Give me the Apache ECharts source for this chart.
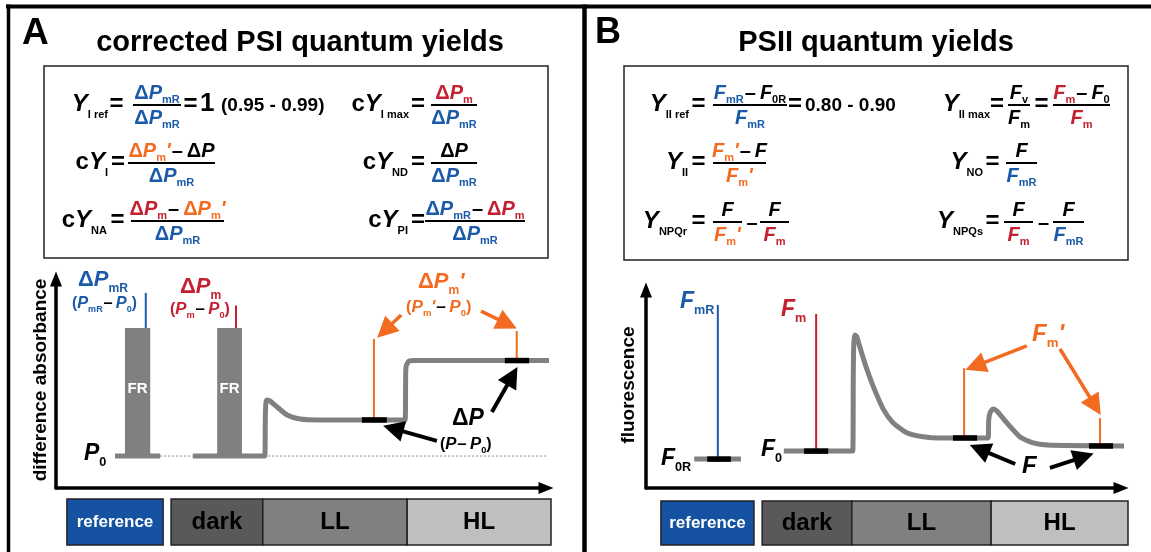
<!DOCTYPE html>
<html>
<head>
<meta charset="utf-8">
<title>PSI / PSII quantum yields</title>
<script src="https://cdn.jsdelivr.net/npm/echarts@6.0.0/dist/echarts.min.js"></script>
<style>
  html, body { margin: 0; padding: 0; background: #fff; }
  #chart { width: 1151px; height: 552px; }
</style>
</head>
<body>
<div id="chart"></div>
<script>
// ---- data, arbitrary units (time 0-100, signal 0-100) ----
// panel A: P700 difference absorbance
const traceRefA = [[11.9, 14.8], [21.0, 14.8]];
const traceA = [[27.6, 14.8], [42.1, 14.8], [42.2, 31.5], [42.3, 38.9], [42.5, 40.7], [43.1, 40.3], [44.6, 37.5],
  [46.6, 33.8], [49.2, 31.9], [53.2, 31.5], [70.4, 31.5], [70.5, 50.0], [70.6, 56.5], [71.2, 58.8], [72.4, 59.0], [99.8, 59.0]];
const baselineA = [[21.0, 14.8], [99.8, 14.8]];
const frBarsA = [[13.9, 19.0, 14.8, 74.1], [32.5, 37.5, 14.8, 74.1]]; // x0, x1, y0, y1
const markersA = [[18.1, 74.1, 90.3], [36.3, 74.1, 84.5], [64.1, 31.5, 69.0], [92.9, 59.0, 72.7]]; // x, y0, y1
const samplesA = [[61.7, 66.7, 31.5], [90.5, 95.4, 59.0]]; // x0, x1, y
const arrowsA = [[69.6, 80.1, 66.3, 72.9], [85.7, 81.9, 91.0, 76.0], [76.8, 21.8, 68.0, 27.5], [87.9, 35.2, 92.0, 51.8]];
const phasesA = [[2.2, 21.6], [23.2, 41.7], [41.7, 70.8], [70.8, 99.8]];

// panel B: chlorophyll fluorescence
const traceRefB = [[10.0, 14.1], [19.7, 14.1]];
const traceB = [[28.6, 18.0], [42.9, 18.0], [43.0, 52.7], [43.1, 69.8], [43.3, 74.6], [43.7, 73.9], [44.4, 68.5],
  [45.6, 59.5], [47.1, 49.8], [49.2, 38.6], [51.2, 32.0], [54.1, 27.0], [57.5, 25.0], [61.0, 24.4], [71.0, 24.4],
  [71.1, 33.2], [71.4, 36.8], [72.0, 38.5], [72.8, 37.6], [74.9, 31.7], [77.6, 24.9], [80.3, 22.0], [83.2, 21.0], [100.0, 20.5]];
const markersB = [[14.9, 14.1, 89.3], [35.3, 18.0, 84.9], [66.0, 24.4, 58.5], [94.2, 20.5, 34.1]];
const samplesB = [[12.7, 17.6, 14.1], [32.8, 37.8, 18.0], [63.7, 68.7, 24.4], [91.9, 96.9, 20.5]];
const arrowsB = [[79.0, 69.3, 68.3, 59.5], [85.9, 67.8, 93.2, 40.0], [76.6, 11.7, 69.2, 19.0], [83.8, 9.8, 90.8, 15.2]];
const phasesB = [[3.1, 22.4], [24.1, 42.7], [42.7, 71.6], [71.6, 100.0]];

const phaseNames = ['reference', 'dark', 'LL', 'HL'];

// ---- styles ----
const BLUE = '#1b5aa8', RED = '#c4202f', ORANGE = '#f26b21', GRAY = '#808080', BLACK = '#000';
const COL = { k: BLACK, b: BLUE, r: RED, o: ORANGE, w: '#fff' };
const markerColors = [BLUE, RED, ORANGE, ORANGE];
const arrowColors = [ORANGE, ORANGE, BLACK, BLACK];
const phaseFill = ['#1553a2', '#595959', '#808080', '#bfbfbf'];
const phaseText = ['#fff', '#000', '#000', '#000'];
const FAM = "'Liberation Sans', Arial, Helvetica, sans-serif";

// token kinds: [font size, italic, baseline shift]
const TOK = {
  Y: [24, 1, 0], c: [24, 0, 0], S: [11, 0, 6], eq: [24, 0, 0], one: [26, 0, 0],
  D: [20, 0, 0], P: [20, 1, 0], s: [11, 0, 4], q: [20, 1, 0], m: [20, 0, 0], n: [19, 0, 0]
};
const ctx2d = document.createElement('canvas').getContext('2d');
function fontOf (size, italic) { return (italic ? 'italic ' : '') + 'bold ' + size + 'px ' + FAM; }

// lay out a run of tokens on one baseline
function run (x, base, toks, align, k) {
  k = k || 1;
  const items = toks.map(t => {
    if (t[0] === 'g') return { gap: true, w: t[1] * k };
    const d = TOK[t[0]];
    const size = d[0] * k;
    const font = fontOf(size, d[1]);
    ctx2d.font = font;
    return { text: t[1], color: COL[t[2] || 'k'], font, size, dy: d[2] * k, w: ctx2d.measureText(t[1]).width };
  });
  const total = items.reduce((a, b) => a + b.w, 0);
  let cx = align === 'right' ? x - total : align === 'center' ? x - total / 2 : x;
  const els = [];
  items.forEach(it => {
    if (!it.gap) {
      els.push({
        type: 'text', x: cx, y: base + it.dy - 0.35 * it.size, silent: true,
        style: { text: it.text, font: it.font, fill: it.color, align: 'left', verticalAlign: 'middle' }
      });
    }
    cx += it.w;
  });
  return els;
}
const dP = (sub, c, pr) => [['D', 'Δ', c], ['P', 'P', c]].concat(sub ? [['s', sub, c]] : []).concat(pr ? [['q', "'", c]] : []);
const tP = (sub, c, pr) => [['P', 'P', c]].concat(sub ? [['s', sub, c]] : []).concat(pr ? [['q', "'", c]] : []);
const tF = (sub, c, pr) => [['P', 'F', c]].concat(sub ? [['s', sub, c]] : []).concat(pr ? [['q', "'", c]] : []);
const MI = [['g', 1], ['m', '–'], ['g', 4]];

function frac (x0, x1, bar, num, den) {
  const c = (x0 + x1) / 2;
  return [{ type: 'line', silent: true, shape: { x1: x0, y1: bar, x2: x1, y2: bar }, style: { stroke: BLACK, lineWidth: 2 } }]
    .concat(run(c, bar - 5, num, 'center'), run(c, bar + 20, den, 'center'));
}
const lhs = (xr, bar, toks) => run(xr, bar + 8, toks, 'right');
const eq = (xc, bar) => run(xc, bar + 8, [['eq', '=']], 'center');

const G = [];
const add = a => { a.forEach(e => G.push(e)); };

// frames
G.push({ type: 'line', silent: true, shape: { x1: 6, y1: 6.5, x2: 1151, y2: 6.5 }, style: { stroke: BLACK, lineWidth: 4 } });
G.push({ type: 'line', silent: true, shape: { x1: 8.5, y1: 4.5, x2: 8.5, y2: 552 }, style: { stroke: BLACK, lineWidth: 3.5 } });
G.push({ type: 'line', silent: true, shape: { x1: 584.5, y1: 4.5, x2: 584.5, y2: 552 }, style: { stroke: BLACK, lineWidth: 4.5 } });
G.push({ type: 'rect', silent: true, shape: { x: 44, y: 66, width: 504, height: 192 }, style: { fill: 'none', stroke: '#222', lineWidth: 1.5 } });
G.push({ type: 'rect', silent: true, shape: { x: 624, y: 66, width: 504, height: 194 }, style: { fill: 'none', stroke: '#222', lineWidth: 1.5 } });

// titles
G.push({ type: 'text', x: 22, y: 47 - 0.35 * 37, silent: true, style: { text: 'A', font: fontOf(37, 0), fill: BLACK, align: 'left', verticalAlign: 'middle' } });
G.push({ type: 'text', x: 300, y: 53 - 0.35 * 29, silent: true, style: { text: 'corrected PSI quantum yields', font: fontOf(29, 0), fill: BLACK, align: 'center', verticalAlign: 'middle' } });
G.push({ type: 'text', x: 595, y: 46 - 0.35 * 36, silent: true, style: { text: 'B', font: fontOf(36, 0), fill: BLACK, align: 'left', verticalAlign: 'middle' } });
G.push({ type: 'text', x: 876, y: 53 - 0.35 * 29, silent: true, style: { text: 'PSII quantum yields', font: fontOf(29, 0), fill: BLACK, align: 'center', verticalAlign: 'middle' } });

// panel A formulas
add(lhs(108, 105, [['Y', 'Y'], ['S', 'I ref']]));
add(eq(116.5, 105));
add(frac(133, 181, 105, dP('mR', 'b'), dP('mR', 'b')));
add(eq(190.5, 105));
add(run(200, 113, [['one', '1']], 'left'));
add(run(221, 112, [['n', '(0.95 - 0.99)']], 'left'));
add(lhs(409, 105, [['c', 'c'], ['Y', 'Y'], ['S', 'I max']]));
add(eq(418, 105));
add(frac(431, 477, 105, dP('m', 'r'), dP('mR', 'b')));

add(lhs(108, 163, [['c', 'c'], ['Y', 'Y'], ['S', 'I']]));
add(eq(118, 163));
add(frac(128, 215, 163, dP('m', 'o', 1).concat(MI, dP('', 'k')), dP('mR', 'b')));
add(lhs(408, 163, [['c', 'c'], ['Y', 'Y'], ['S', 'ND']]));
add(eq(418, 163));
add(frac(431, 477, 163, dP('', 'k'), dP('mR', 'b')));

add(lhs(107, 221, [['c', 'c'], ['Y', 'Y'], ['S', 'NA']]));
add(eq(117.5, 221));
add(frac(131, 224, 221, dP('m', 'r').concat(MI, dP('m', 'o', 1)), dP('mR', 'b')));
add(lhs(408, 221, [['c', 'c'], ['Y', 'Y'], ['S', 'PI']]));
add(eq(418, 221));
add(frac(425, 525, 221, dP('mR', 'b').concat(MI, dP('m', 'r')), dP('mR', 'b')));

// panel B formulas
add(lhs(689, 105, [['Y', 'Y'], ['S', 'II ref']]));
add(eq(698.5, 105));
add(frac(713, 787, 105, tF('mR', 'b').concat(MI, tF('0R', 'k')), tF('mR', 'b')));
add(eq(795, 105));
add(run(805, 112, [['n', '0.80 - 0.90']], 'left'));
add(lhs(990, 105, [['Y', 'Y'], ['S', 'II max']]));
add(eq(997, 105));
add(frac(1008, 1030, 105, tF('v', 'k'), tF('m', 'k')));
add(eq(1041.5, 105));
add(frac(1053, 1110, 105, tF('m', 'r').concat(MI, tF('0', 'k')), tF('m', 'r')));

add(lhs(688, 163, [['Y', 'Y'], ['S', 'II']]));
add(eq(698.5, 163));
add(frac(713, 766, 163, tF('m', 'o', 1).concat(MI, tF('', 'k')), tF('m', 'o', 1)));
add(lhs(983, 163, [['Y', 'Y'], ['S', 'NO']]));
add(eq(992.5, 163));
add(frac(1006, 1037, 163, tF('', 'k'), tF('mR', 'b')));

add(lhs(687, 222, [['Y', 'Y'], ['S', 'NPQr']]));
add(eq(698.5, 222));
add(frac(713, 742, 222, tF('', 'k'), tF('m', 'o', 1)));
add(run(752, 230, [['m', '–']], 'center'));
add(frac(760, 789, 222, tF('', 'k'), tF('m', 'r')));
add(lhs(983, 222, [['Y', 'Y'], ['S', 'NPQs']]));
add(eq(992.5, 222));
add(frac(1004, 1033, 222, tF('', 'k'), tF('m', 'r')));
add(run(1043.5, 230, [['m', '–']], 'center'));
add(frac(1053, 1084, 222, tF('', 'k'), tF('mR', 'b')));

// panel A plot labels
add(run(78, 288, dP('mR', 'b'), 'left', 1.1));
add(run(72, 309, [['n', '(', 'b']].concat(tP('mR', 'b'), MI, tP('0', 'b'), [['n', ')', 'b']]), 'left', 0.82));
add(run(180, 295, dP('m', 'r'), 'left', 1.1));
add(run(170, 315, [['n', '(', 'r']].concat(tP('m', 'r'), MI, tP('0', 'r'), [['n', ')', 'r']]), 'left', 0.84));
add(run(418, 290, dP('m', 'o', 1), 'left', 1.1));
add(run(406, 313, [['n', '(', 'o']].concat(tP('m', 'o', 1), MI, tP('0', 'o'), [['n', ')', 'o']]), 'left', 0.86));
add(run(452, 427, dP('', 'k'), 'left', 1.15));
add(run(440, 450, [['n', '(']].concat(tP('', 'k'), MI, tP('0', 'k'), [['n', ')']]), 'left', 0.84));
add(run(84, 462, tP('0', 'k'), 'left', 1.15));
G.push({ type: 'text', x: 41, y: 380, rotation: Math.PI / 2, silent: true, style: { text: 'difference absorbance', font: fontOf(19, 0), fill: BLACK, align: 'center', verticalAlign: 'middle' } });

// panel B plot labels
add(run(680, 310, tF('mR', 'b'), 'left', 1.15));
add(run(781, 318, tF('m', 'r'), 'left', 1.15));
add(run(1032, 343, tF('m', 'o', 1), 'left', 1.2));
add(run(1022, 475, tF('', 'k'), 'left', 1.2));
add(run(661, 467, tF('0R', 'k'), 'left', 1.15));
add(run(761, 458, tF('0', 'k'), 'left', 1.15));
G.push({ type: 'text', x: 629, y: 385, rotation: Math.PI / 2, silent: true, style: { text: 'fluorescence', font: fontOf(19, 0), fill: BLACK, align: 'center', verticalAlign: 'middle' } });

// ---- chart ----
const axisOn = {
  show: true, onZero: false, symbol: ['none', 'triangle'], symbolSize: [12, 15],
  lineStyle: { color: BLACK, width: 3.5 }
};
function plotAxis (gi, max) {
  return { type: 'value', gridIndex: gi, min: 0, max, axisLine: axisOn, axisTick: { show: false }, axisLabel: { show: false }, splitLine: { show: false } };
}
function hidden (gi, max) { return { type: 'value', gridIndex: gi, min: 0, max, show: false }; }

function line (gi, data, color, width, z, extra) {
  return Object.assign({
    type: 'line', xAxisIndex: gi, yAxisIndex: gi, data, symbol: 'none', clip: false, silent: true, z,
    lineStyle: { color, width, cap: 'butt', join: 'round' }
  }, extra || {});
}
function plotSeries (gi, refTrace, trace, markers, samples, arrows) {
  const s = [];
  s.push(line(gi, refTrace, GRAY, 5, 2));
  s.push(line(gi, trace, GRAY, 5, 2, { smooth: 0.2 }));
  markers.forEach((m, i) => s.push(line(gi, [[m[0], m[1]], [m[0], m[2]]], markerColors[i], 2, 3)));
  samples.forEach(p => s.push(line(gi, [[p[0], p[2]], [p[1], p[2]]], BLACK, 5.5, 4)));
  [ORANGE, BLACK].forEach(c => {
    s.push({
      type: 'lines', coordinateSystem: 'cartesian2d', xAxisIndex: gi, yAxisIndex: gi, silent: true, z: 5,
      symbol: ['none', 'triangle'], symbolSize: [1, 21],
      lineStyle: { color: c, width: c === BLACK ? 4 : 3.5, opacity: 1 },
      data: arrows.filter((a, i) => arrowColors[i] === c).map(a => ({ coords: [[a[0], a[1]], [a[2], a[3]]] }))
    });
  });
  return s;
}
function phaseSeries (gi, phases) {
  return {
    type: 'custom', xAxisIndex: gi, yAxisIndex: gi, silent: true, clip: false, data: phases,
    renderItem: (params, api) => {
      const i = params.dataIndex;
      const p0 = api.coord([api.value(0), 1]);
      const p1 = api.coord([api.value(1), 0]);
      return {
        type: 'group', children: [
          { type: 'rect', shape: { x: p0[0], y: p0[1], width: p1[0] - p0[0], height: p1[1] - p0[1] }, style: { fill: phaseFill[i], stroke: '#222', lineWidth: 1.5 } },
          { type: 'text', style: { text: phaseNames[i], x: (p0[0] + p1[0]) / 2, y: (p0[1] + p1[1]) / 2, align: 'center', verticalAlign: 'middle', font: fontOf(i === 0 ? 17 : 24, 0), fill: phaseText[i] } }
        ]
      };
    }
  };
}

const series = [].concat(
  [line(0, baselineA, '#888', 1, 1, { lineStyle: { color: '#888', width: 1, type: [2, 2] } })],
  [{
    type: 'custom', xAxisIndex: 0, yAxisIndex: 0, silent: true, clip: false, z: 2, data: frBarsA,
    renderItem: (params, api) => {
      const p0 = api.coord([api.value(0), api.value(3)]);
      const p1 = api.coord([api.value(1), api.value(2)]);
      return {
        type: 'group', children: [
          { type: 'rect', shape: { x: p0[0], y: p0[1], width: p1[0] - p0[0], height: p1[1] - p0[1] }, style: { fill: GRAY } },
          { type: 'text', style: { text: 'FR', x: (p0[0] + p1[0]) / 2, y: (p0[1] + p1[1]) / 2 - 3, align: 'center', verticalAlign: 'middle', font: fontOf(15, 0), fill: '#fff' } }
        ]
      };
    }
  }],
  plotSeries(0, traceRefA, traceA, markersA, samplesA, arrowsA),
  plotSeries(1, traceRefB, traceB, markersB, samplesB, arrowsB),
  [phaseSeries(2, phasesA), phaseSeries(3, phasesB)]
);

const chart = echarts.init(document.getElementById('chart'));
chart.setOption({
  animation: false,
  backgroundColor: '#fff',
  grid: [
    { left: 56, top: 279, width: 490, height: 209 },
    { left: 646, top: 290, width: 475, height: 198 },
    { left: 56, top: 499, width: 496, height: 46 },
    { left: 646, top: 501, width: 482, height: 44 }
  ],
  xAxis: [plotAxis(0, 98.8), plotAxis(1, 98.55), hidden(2, 100), hidden(3, 100)],
  yAxis: [plotAxis(0, 96.76), plotAxis(1, 96.59), hidden(2, 1), hidden(3, 1)],
  series,
  graphic: { elements: G }
});
</script>
</body>
</html>
